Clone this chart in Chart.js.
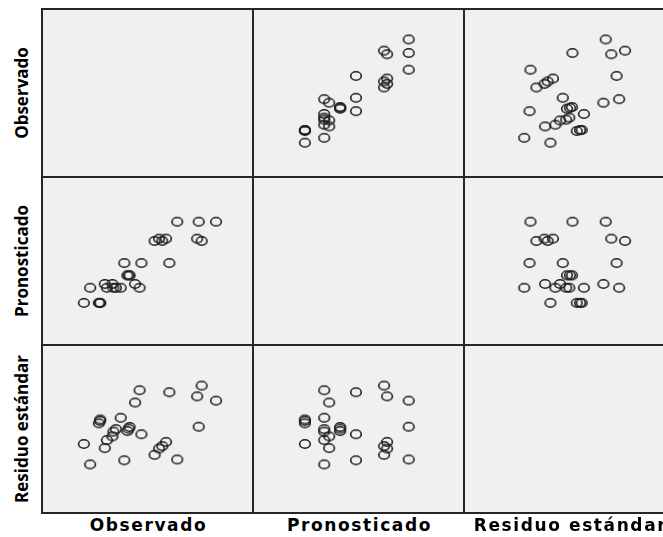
<!DOCTYPE html>
<html>
<head>
<meta charset="utf-8">
<script src="https://cdn.jsdelivr.net/npm/chart.js@4"></script>
<style>
  body { margin: 0; background: #fff; width: 663px; height: 537px; overflow: hidden; position: relative; }
  #grid { position: absolute; left: 42px; top: 9px; width: 633px; height: 504px; background: #f0f0f0; }
  .cell { position: absolute; width: 211px; height: 168px; }
  .cell canvas { display: block; }
  .vline { position: absolute; top: -1px; width: 2px; height: 506px; background: #262626; }
  .hline { position: absolute; left: -1px; height: 2px; width: 635px; background: #262626; }
  .rowlab { position: absolute; left: 21px; font-family: "Open Sans", "Noto Sans", sans-serif;
            font-weight: bold; font-size: 17px; color: #000; white-space: nowrap;
            transform: translate(-50%, -50%) rotate(-90deg); }
  .collab { position: absolute; top: 515px; font-family: "DejaVu Sans", Verdana, sans-serif; font-weight: bold;
            font-size: 17px; letter-spacing: 1.6px; color: #000; white-space: nowrap; transform: translateX(-50%); }
</style>
</head>
<body>
<div id="grid"></div>
<script>
// variable names (rows top to bottom, columns left to right)
const variables = ['Observado', 'Pronosticado', 'Residuo estándar'];

// values (no tick labels in the plot, so 0-100 relative scale)
const observado = [65.1, 76.0, 84.8, 53.6, 55.9, 57.5, 59.4, 75.2, 77.5, 38.2, 46.9, 61.1, 39.8, 40.4,
  40.9, 20.9, 28.3, 29.4, 32.2, 32.7, 34.0, 36.4, 43.7, 46.0, 17.7, 25.3, 25.9, 26.0];
const pronosticado = [75.5, 75.5, 75.5, 63.0, 64.5, 63.0, 64.5, 64.5, 63.0, 48.7, 48.7, 48.7, 40.7, 40.7,
  40.7, 32.6, 35.1, 32.6, 35.1, 32.6, 32.6, 32.6, 35.1, 32.6, 22.8, 22.8, 22.8, 22.8];
const residuo = [30.2, 51.5, 68.4, 33.2, 37.3, 38.9, 41.6, 71.2, 78.2, 29.7, 46.6, 73.9, 48.7, 50.2,
  51.3, 27.0, 37.6, 42.8, 45.2, 48.3, 49.9, 57.3, 67.2, 75.2, 40.3, 53.7, 55.3, 56.2];

const series = [observado, pronosticado, residuo];

const cellW = 211, cellH = 168;
const grid = document.getElementById('grid');

// SPSS draws its markers as slightly flattened rings
function makeRing() {
  const cv = document.createElement('canvas');
  cv.width = 14;
  cv.height = 12;
  const g = cv.getContext('2d');
  g.strokeStyle = '#1e1e1e';
  g.lineWidth = 1.6;
  g.beginPath();
  g.ellipse(7, 6, 5.3, 4.2, 0, 0, Math.PI * 2);
  g.stroke();
  return cv;
}
const ring = makeRing();

for (let r = 0; r < 3; r++) {
  for (let c = 0; c < 3; c++) {
    const cell = document.createElement('div');
    cell.className = 'cell';
    cell.style.left = (c * cellW) + 'px';
    cell.style.top = (r * cellH) + 'px';
    grid.appendChild(cell);
    if (r === c) continue; // diagonal panels stay empty

    const canvas = document.createElement('canvas');
    canvas.width = cellW;
    canvas.height = cellH;
    cell.appendChild(canvas);

    const xs = series[c], ys = series[r];
    const points = xs.map((x, i) => ({ x: x, y: ys[i] }));

    new Chart(canvas, {
      type: 'scatter',
      data: {
        datasets: [{
          data: points,
          pointStyle: ring,
          pointRadius: 6
        }]
      },
      options: {
        responsive: false,
        animation: false,
        events: [],
        layout: { padding: 0 },
        scales: {
          x: { display: false, min: 0, max: 100 },
          y: { display: false, min: 0, max: 100 }
        },
        plugins: { legend: { display: false }, tooltip: { enabled: false } }
      }
    });
  }
}

// panel frame lines
for (let i = 0; i <= 3; i++) {
  const v = document.createElement('div');
  v.className = 'vline';
  v.style.left = (i * cellW - 1) + 'px';
  grid.appendChild(v);
  const h = document.createElement('div');
  h.className = 'hline';
  h.style.top = (i * cellH - 1) + 'px';
  grid.appendChild(h);
}

// axis labels
variables.forEach((name, i) => {
  const rl = document.createElement('div');
  rl.className = 'rowlab';
  rl.textContent = name;
  rl.style.top = (9 + cellH * i + cellH / 2) + 'px';
  document.body.appendChild(rl);

  const cl = document.createElement('div');
  cl.className = 'collab';
  cl.textContent = name;
  cl.style.left = (42 + cellW * i + cellW / 2 + 1) + 'px';
  document.body.appendChild(cl);
});
</script>
</body>
</html>
